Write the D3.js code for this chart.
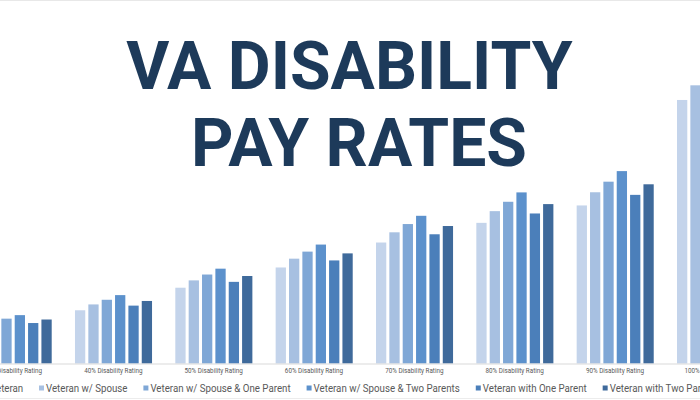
<!DOCTYPE html>
<html>
<head>
<meta charset="utf-8">
<script src="https://cdn.jsdelivr.net/npm/d3@7/dist/d3.min.js"></script>
<style>
  html, body { margin: 0; padding: 0; background: #ffffff; }
  svg { display: block; }
</style>
</head>
<body>
<div id="chart"></div>
<script>
// ---- data (monthly pay, USD) ----
const categories = ["30% Disability Rating", "40% Disability Rating", "50% Disability Rating",
  "60% Disability Rating", "70% Disability Rating", "80% Disability Rating",
  "90% Disability Rating", "100% Disability Rating"];
const seriesNames = ["Veteran", "Veteran w/ Spouse", "Veteran w/ Spouse & One Parent",
  "Veteran w/ Spouse & Two Parents", "Veteran with One Parent", "Veteran with Two Parents"];
const veteranAlone      = [524, 755, 1075, 1362, 1716, 1995, 2242, 3738];
const withSpouse        = [586, 838, 1179, 1487, 1861, 2161, 2429, 3946];
const spouseOneParent   = [636, 904, 1262, 1587, 1978, 2294, 2579, 4113];
const spouseTwoParents  = [686, 970, 1345, 1687, 2095, 2427, 2729, 4279];
const oneParent         = [574, 821, 1158, 1462, 1833, 2128, 2392, 3906];
const twoParents        = [624, 887, 1241, 1562, 1950, 2261, 2542, 4072];
const titleLines = ["VA DISABILITY", "PAY RATES"];

const seriesValues = [veteranAlone, withSpouse, spouseOneParent, spouseTwoParents, oneParent, twoParents];
const colors = ["#c4d4eb", "#a7c0e1", "#7fa7d6", "#5c91cc", "#4b7fba", "#3f6a9b"];

const W = 700, H = 400;
const svg = d3.select("#chart").append("svg").attr("width", W).attr("height", H);
svg.append("rect").attr("width", W).attr("height", H).attr("fill", "#fff");

// thin frame lines at top/bottom
svg.append("line").attr("x1", 0).attr("x2", W).attr("y1", 0.5).attr("y2", 0.5).attr("stroke", "#e8e8e8");
svg.append("line").attr("x1", 0).attr("x2", W).attr("y1", 398.5).attr("y2", 398.5).attr("stroke", "#ececec");

// scales (chart is cropped: range spills past the viewport)
const x0 = d3.scaleBand().domain(categories).range([-37.2, 765.5]).paddingInner(0).paddingOuter(0);
const x1 = d3.scaleBand().domain(seriesNames).range([11.8, 88.6]).paddingInner(0.23).paddingOuter(0);
const baseY = 363.5;
const y = d3.scaleLinear().domain([0, 4500]).range([baseY, baseY - 4500 * 0.0705]);

const groups = svg.append("g").selectAll("g").data(categories).join("g")
  .attr("transform", d => `translate(${x0(d)},0)`);
groups.selectAll("rect").data((d, i) => seriesNames.map((s, j) => ({ s, j, v: seriesValues[j][i] })))
  .join("rect")
  .attr("x", d => x1(d.s) * x0.bandwidth() / 100)
  .attr("width", x1.bandwidth() * x0.bandwidth() / 100)
  .attr("y", d => y(d.v))
  .attr("height", d => y(0) - y(d.v))
  .attr("fill", d => colors[d.j]);

// axis
const xAxis = d3.axisBottom(x0).tickSize(0).tickPadding(5);
const ax = svg.append("g").attr("transform", `translate(0,${baseY})`).call(xAxis);
ax.select(".domain").attr("stroke", "#d9d9d9").attr("d", `M-40,0.5H${W + 80}`);
ax.selectAll("text").attr("font-family", "Roboto, sans-serif").attr("font-size", 6.3).attr("fill", "#595959");

// legend
const legend = svg.append("g").attr("font-family", "Roboto, sans-serif").attr("font-size", 11.5).attr("fill", "#595959");
const items = legend.selectAll("g").data(seriesNames).join("g");
items.append("rect").attr("width", 5).attr("height", 5).attr("y", 385.5).attr("fill", (d, i) => colors[i]);
const texts = items.append("text").attr("y", 392).text(d => d);
const widths = [];
texts.each(function () { widths.push(this.getComputedTextLength()); });
// slightly condensed legend lettering, as in the reference
const k = 81.7 / widths[1];
texts.attr("transform", `translate(7,0) scale(${k},1)`).attr("y", 392);
const gap = 15.7;
const pos = [];
let cur = 39;
for (let i = 1; i < seriesNames.length; i++) { pos[i] = cur; cur += 7 + widths[i] * k + gap; }
pos[0] = 39 - gap - widths[0] * k - 7;
items.attr("transform", (d, i) => `translate(${pos[i]},0)`);

// title
const title = svg.append("g").attr("font-family", "Roboto, sans-serif").attr("font-weight", 700)
  .attr("font-size", 66).attr("fill", "#1d3a5a").attr("text-anchor", "middle");
title.selectAll("text").data(titleLines).join("text")
  .attr("x", (d, i) => i === 0 ? 349.5 : 359)
  .attr("y", (d, i) => 88.5 + i * 77.4)
  .text(d => d);
</script>
</body>
</html>
